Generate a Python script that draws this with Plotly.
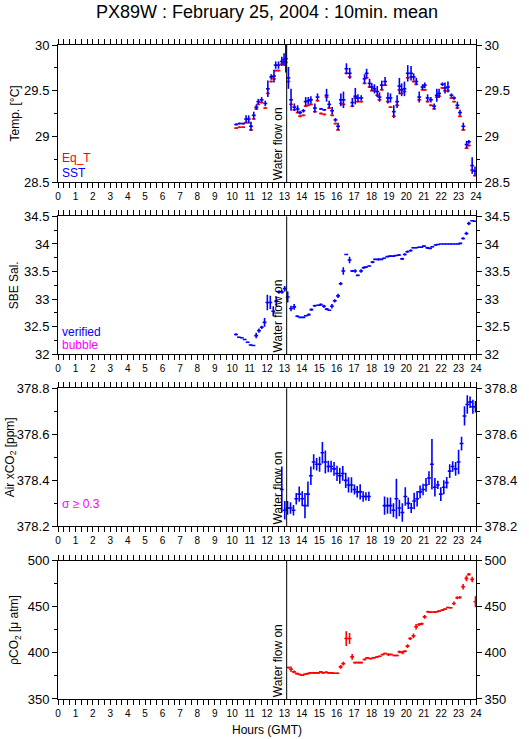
import plotly.graph_objects as go

# ---- Temp. panel: SST (blue) and Eq_T (red) ----
t_temp = [10.23, 10.42, 10.63, 10.8, 10.95, 11.08, 11.24, 11.39, 11.5, 11.69,
          11.9, 12.05, 12.24, 12.4, 12.5, 12.66, 12.85, 12.98, 13.08, 13.23,
          13.38, 13.57, 13.76, 13.9, 14.09, 14.22, 14.37, 14.52, 14.75, 14.9,
          15.1, 15.29, 15.42, 15.57, 15.74, 15.93, 16.08, 16.24, 16.39, 16.56,
          16.75, 16.9, 17.07, 17.22, 17.41, 17.6, 17.72, 17.89, 18.02, 18.17,
          18.33, 18.46, 18.59, 18.78, 18.94, 19.09, 19.28, 19.47, 19.6, 19.73,
          19.89, 20.08, 20.27, 20.42, 20.57, 20.74, 20.93, 21.06, 21.22, 21.41,
          21.6, 21.75, 21.88, 22.07, 22.22, 22.39, 22.59, 22.74, 22.93, 23.08,
          23.27, 23.46, 23.59, 23.78, 23.94]
sst = [29.13, 29.14, 29.14, 29.19, 29.19, 29.11, 29.23, 29.32, 29.38, 29.40,
       29.36, 29.52, 29.65, 29.66, 29.78, 29.78, 29.82, 29.84, 29.85, 29.64,
       29.40, 29.32, 29.30, 29.26, 29.28, 29.38, 29.39, 29.40, 29.31, 29.43,
       29.30, 29.29, 29.45, 29.35, 29.28, 29.18, 29.11, 29.40, 29.40, 29.74,
       29.69, 29.37, 29.44, 29.42, 29.42, 29.63, 29.69, 29.58, 29.54, 29.52,
       29.49, 29.43, 29.56, 29.60, 29.42, 29.42, 29.27, 29.38, 29.55, 29.51,
       29.52, 29.69, 29.69, 29.65, 29.60, 29.43, 29.54, 29.56, 29.42, 29.40,
       29.33, 29.45, 29.47, 29.57, 29.53, 29.54, 29.45, 29.42, 29.34, 29.26,
       29.11, 28.91, 28.94, 28.68, 28.62]
sst_err = [.01, .01, .01, .04, .04, .05, .04, .03, .03, .03,
           .03, .09, .03, .07, .04, .04, .05, .07, .15, .12,
           .12, .04, .04, .02, .02, .05, .04, .04, .05, .04,
           .01, .01, .07, .04, .04, .02, .04, .07, .09, .06,
           .06, .05, .09, .04, .03, .05, .05, .05, .04, .05,
           .06, .05, .05, .05, .06, .05, .07, .07, .09, .07,
           .08, .09, .08, .04, .04, .06, .03, .03, .04, .03,
           .03, .07, .05, .02, .06, .06, .02, .02, .04, .03,
           .04, .04, .02, .09, .05]
eq_t = [29.09, 29.10, 29.10, 29.15, 29.15, 29.07, 29.19, 29.30, 29.35, 29.37,
        29.31, 29.47, 29.60, 29.63, 29.72, 29.72, 29.79, 29.81, 29.81, 29.60,
        29.35, 29.29, 29.26, 29.22, 29.23, 29.33, 29.34, 29.35, 29.27, 29.39,
        29.25, 29.24, 29.43, 29.31, 29.23, 29.14, 29.07, 29.36, 29.35, 29.69,
        29.65, 29.33, 29.42, 29.38, 29.38, 29.58, 29.64, 29.54, 29.50, 29.50,
        29.45, 29.40, 29.51, 29.56, 29.38, 29.32, 29.22, 29.34, 29.51, 29.47,
        29.49, 29.64, 29.65, 29.60, 29.57, 29.40, 29.51, 29.51, 29.38, 29.34,
        29.30, 29.43, 29.44, 29.53, 29.50, 29.50, 29.42, 29.38, 29.31, 29.22,
        29.07, 28.87, 28.90, 28.63, 28.57]

# ---- SBE salinity ----
t_sal = [10.22, 10.39, 10.55, 10.72, 10.89, 11.06, 11.22, 11.38, 11.54, 11.7,
         11.86, 12.02, 12.19, 12.36, 12.53, 12.69, 12.86, 13.02, 13.19, 13.38,
         13.56, 13.74, 13.91, 14.09, 14.23, 14.4, 14.55, 14.74, 14.93, 15.09,
         15.27, 15.43, 15.58, 15.73, 15.89, 16.08, 16.23, 16.38, 16.55, 16.74,
         16.89, 17.06, 17.21, 17.4, 17.55, 17.68, 17.87, 18.06, 18.21, 18.4,
         18.57, 18.72, 18.91, 19.07, 19.26, 19.41, 19.58, 19.76, 19.91, 20.06,
         20.25, 20.4, 20.56, 20.73, 20.86, 21.01, 21.2, 21.36, 21.49, 21.68,
         21.81, 21.98, 22.15, 22.32, 22.48, 22.65, 22.82, 22.98, 23.1, 23.26,
         23.45, 23.59, 23.78, 23.93]
sal = [32.36, 32.31, 32.30, 32.27, 32.22, 32.17, 32.16, 32.34, 32.43, 32.49,
       32.58, 32.94, 32.94, 32.78, 32.96, 33.13, 33.13, 33.19, 33.04, 32.83,
       32.86, 32.69, 32.67, 32.67, 32.70, 32.72, 32.81, 32.88, 32.89, 32.90,
       32.87, 32.82, 32.80, 32.87, 32.97, 33.06, 33.28, 33.51, 33.81, 33.71,
       33.51, 33.51, 33.43, 33.51, 33.57, 33.58, 33.60, 33.67, 33.72, 33.72,
       33.72, 33.74, 33.77, 33.78, 33.78, 33.79, 33.80, 33.73, 33.81, 33.86,
       33.88, 33.93, 33.93, 33.94, 33.94, 33.96, 33.93, 33.92, 33.95, 33.98,
       33.99, 34.00, 34.00, 34.00, 34.00, 34.00, 34.00, 34.00, 34.01, 34.10,
       34.19, 34.37, 34.42, 34.41]
sal_err = [.02, .01, .01, .01, .01, .01, .01, .05, .04, .03,
           .08, .14, .12, .09, .09, .03, .03, .05, .10, .05,
           .05, .02, .01, .01, .01, .02, .02, .02, .01, .02,
           .03, .02, .01, .04, .03, .04, .03, .07, .01, .06,
           .02, .03, .01, .03, .02, .01, .01, .02, .01, .02,
           .01, .01, .01, .01, .01, .01, .02, .02, .02, .02,
           .02, .01, .01, .01, .01, .01, .02, .01, .01, .01,
           .01, 0, 0, 0, 0, 0, 0, 0, .01, .02,
           .03, .03, .01, .01]

# ---- Air xCO2 ----
t_air = [12.85, 13.02, 13.18, 13.35, 13.52, 13.68, 13.85, 14.02, 14.18, 14.35,
         14.52, 14.68, 14.85, 15.02, 15.18, 15.35, 15.52, 15.68, 15.85, 16.02,
         16.18, 16.35, 16.52, 16.68, 16.85, 17.02, 17.18, 17.35, 17.52, 17.68,
         17.85,
         18.75, 18.92, 19.09, 19.26, 19.43, 19.6, 19.77, 19.94, 20.11, 20.28,
         20.45, 20.62, 20.79, 20.96, 21.13, 21.3, 21.47, 21.64, 21.81, 21.98,
         22.15, 22.32, 22.49, 22.66, 22.83, 23.0, 23.17, 23.34, 23.5, 23.66,
         23.82, 23.97]
air = [378.36, 378.27, 378.28, 378.28, 378.27, 378.32, 378.34, 378.32, 378.29, 378.34,
       378.42, 378.48, 378.47, 378.47, 378.52, 378.48, 378.46, 378.46, 378.45, 378.43,
       378.42, 378.43, 378.40, 378.38, 378.38, 378.36, 378.35, 378.35, 378.33, 378.33,
       378.33,
       378.29, 378.29, 378.29, 378.27, 378.32, 378.28, 378.26, 378.33, 378.30, 378.28,
       378.31, 378.32, 378.35, 378.36, 378.38, 378.41, 378.47, 378.37, 378.38, 378.34,
       378.37, 378.39, 378.44, 378.46, 378.45, 378.48, 378.56, 378.68, 378.73, 378.74,
       378.72, 378.72]
air_err = [.10, .04, .03, .025, .023, .025, .033, .033, .055, .055,
           .04, .033, .027, .033, .047, .05, .025, .025, .03, .033,
           .035, .032, .033, .033, .034, .022, .025, .033, .023, .018,
           .02,
           .04, .035, .035, .03, .087, .036, .04, .04, .025, .022,
           .036, .034, .028, .025, .03, .03, .11, .04, .018, .03,
           .03, .025, .03, .023, .03, .053, .03, .042, .04, .025,
           .03, .025]

# ---- pCO2 ----
t_pco2 = [13.23, 13.38, 13.55, 13.72, 13.89, 14.03, 14.18, 14.33, 14.48, 14.65,
          14.78, 14.93, 15.09, 15.22, 15.4, 15.55, 15.7, 15.85, 16.04, 16.23,
          16.38, 16.55, 16.74, 16.89, 17.06, 17.25, 17.4, 17.6, 17.75, 17.94,
          18.13, 18.32, 18.47, 18.64, 18.78, 18.97, 19.12, 19.31, 19.46, 19.61,
          19.78, 19.92, 20.07, 20.22, 20.41, 20.56, 20.73, 20.88, 21.05, 21.25,
          21.4, 21.6, 21.75, 21.88, 22.07, 22.22, 22.39, 22.54, 22.73, 22.92,
          23.07, 23.26, 23.45, 23.59, 23.78, 23.97]
pco2 = [384.1, 382.3, 379.4, 377.5, 376.5, 375.7, 376.8, 377.5, 378.3, 378.3,
        378.3, 378.3, 379.4, 378.3, 379.0, 378.3, 378.3, 377.9, 377.9, 384.8,
        388.4, 415.6, 415.6, 395.7, 389.5, 389.5, 389.5, 392.8, 394.6, 393.8,
        394.6, 395.7, 396.4, 398.2, 399.3, 398.2, 398.2, 397.1, 397.1, 401.1,
        400.4, 401.8, 407.3, 415.6, 418.5, 428.3, 430.8, 431.5, 439.1, 444.6,
        444.2, 444.2, 444.6, 445.3, 446.4, 447.5, 449.3, 448.9, 453.6, 459.8,
        460.1, 471.7, 480.8, 485.1, 479.7, 455.4]
pco2_err = [1, 3, 1.5, 1, 1, .8, .8, .8, .8, .8,
            .8, .8, 1, .8, 1, .8, .8, .8, .8, 2,
            2, 8, 6, 3, 1, .8, .8, 1, 1, .8,
            .8, .8, .8, 1, .8, 1.5, .8, .8, .8, 1.5,
            2, 1, 2, 1.5, 2.5, 3, 1.5, 1.5, 2, 1,
            .8, .8, .8, .8, 1, 1, .8, .8, 2, 1.5,
            1.5, 3, 3, 1.5, 3, 6]

water_on = 13.13
BLUE, RED, MAGENTA = '#0000ff', '#ff0000', '#ff00ff'
FONT = 'Liberation Sans, Arial, sans-serif'


def ax(letter, i):
    return letter if i == 1 else '%s%d' % (letter, i)


fig = go.Figure()


def add_series(i, x, y, err, color):
    # only the crosses (error bars) are drawn, markers stay hidden
    fig.add_trace(go.Scatter(
        x=x, y=y, mode='markers', xaxis=ax('x', i), yaxis=ax('y', i),
        marker=dict(size=2, color=color, opacity=0),
        error_y=dict(type='data', array=err, color=color, thickness=1.6, width=0),
        error_x=dict(type='constant', value=0.11, color=color, thickness=1.6, width=0),
        showlegend=False, hoverinfo='skip'))


add_series(1, t_temp, eq_t, [0.01] * len(eq_t), RED)
add_series(1, t_temp, sst, sst_err, BLUE)
add_series(2, t_sal, sal, sal_err, BLUE)
add_series(3, t_air, air, air_err, BLUE)
add_series(4, t_pco2, pco2, pco2_err, RED)

# panels: domain, y range, tick start, major step, y title, title shift
panels = [
    ((0.7905, 1.0), [28.5, 30], 28.5, 0.5, 'Temp. [°C]', -43),
    ((0.527, 0.738), [32, 34.5], 32, 0.5, 'SBE Sal.', -44),
    ((0.264, 0.475), [378.2 - 1e-6, 378.8 + 1e-6], 378.2, 0.2, 'Air xCO<sub>2</sub> [ppm]', -47),
    ((0.0, 0.2115), [350, 500], 350, 50, 'ρCO<sub>2</sub> [μ atm]', -43),
]

layout = dict(
    width=529, height=739,
    margin=dict(l=58, r=50, t=45, b=40),
    paper_bgcolor='white', plot_bgcolor='white',
    font=dict(family=FONT, color='black'),
    title=dict(text='PX89W : February 25, 2004 : 10min. mean',
               x=0.5, xref='paper', xanchor='center',
               y=1 - 12 / 739, yref='container', yanchor='middle',
               font=dict(size=18, family=FONT, color='black')),
)
annotations = []
shapes = []

for k, (dom, rng, t0, step, ytitle, shift) in enumerate(panels):
    i = k + 1
    xa, ya = ax('x', i), ax('y', i)
    layout[ax('xaxis', i)] = dict(
        domain=[0, 1], anchor=ya, range=[0, 24],
        tickmode='linear', tick0=0, dtick=1,
        ticks='outside', ticklen=5, tickwidth=1, tickcolor='black',
        minor=dict(dtick=1 / 3, ticks='outside', ticklen=3, tickcolor='black'),
        showline=True, linecolor='black', linewidth=1, mirror='allticks',
        showgrid=False, zeroline=False, tickfont=dict(size=10))
    yax = dict(
        domain=list(dom), anchor=xa, range=rng,
        tickmode='linear', tick0=t0, dtick=step,
        ticks='outside', ticklen=5, tickwidth=1, tickcolor='black',
        minor=dict(dtick=step / 2, ticks='outside', ticklen=3, tickcolor='black'),
        showgrid=False, zeroline=False, tickfont=dict(size=13))
    layout[ax('yaxis', i)] = dict(yax, showline=True, linecolor='black',
                                  linewidth=1, mirror=True)
    layout['yaxis%d' % (i + 4)] = dict(yax, overlaying=ya, side='right',
                                       showline=False)
    fig.add_trace(go.Scatter(x=[None], y=[None], xaxis=xa,
                             yaxis='y%d' % (i + 4), showlegend=False,
                             hoverinfo='skip'))

    shapes.append(dict(type='line', xref=xa, yref=ya + ' domain',
                       x0=water_on, x1=water_on, y0=0, y1=1,
                       line=dict(color='black', width=1)))
    annotations.append(dict(text='Water flow on', xref=xa,
                            yref=ya + ' domain', x=water_on, y=0,
                            xanchor='right', yanchor='bottom', textangle=-90,
                            showarrow=False, font=dict(size=12)))
    annotations.append(dict(text=ytitle, xref='paper', yref=ya + ' domain',
                            x=0, xshift=shift, y=0.5, xanchor='center',
                            yanchor='middle', textangle=-90, showarrow=False,
                            font=dict(size=12)))

legend_items = [
    (1, 'Eq_T', RED, 0.175),
    (1, 'SST', BLUE, 0.066),
    (2, 'verified', BLUE, 0.16),
    (2, 'bubble', MAGENTA, 0.067),
    (3, 'σ ≥ 0.3', MAGENTA, 0.16),
]
for i, txt, col, yy in legend_items:
    annotations.append(dict(text=txt, xref='paper', yref=ax('y', i) + ' domain',
                            x=0, xshift=2, y=yy, xanchor='left',
                            yanchor='middle', showarrow=False,
                            font=dict(size=12, color=col)))

annotations.append(dict(text='Hours (GMT)', xref='paper', yref='paper',
                        x=0.5, y=0, yshift=-31, xanchor='center',
                        yanchor='middle', showarrow=False, font=dict(size=12)))

layout['annotations'] = annotations
layout['shapes'] = shapes
fig.update_layout(**layout)

# the page body has a default 8px margin; drop it so the figure fills the window
fig.write_html("out.html", config={'displayModeBar': False},
               post_script="document.body.style.margin='0';")
